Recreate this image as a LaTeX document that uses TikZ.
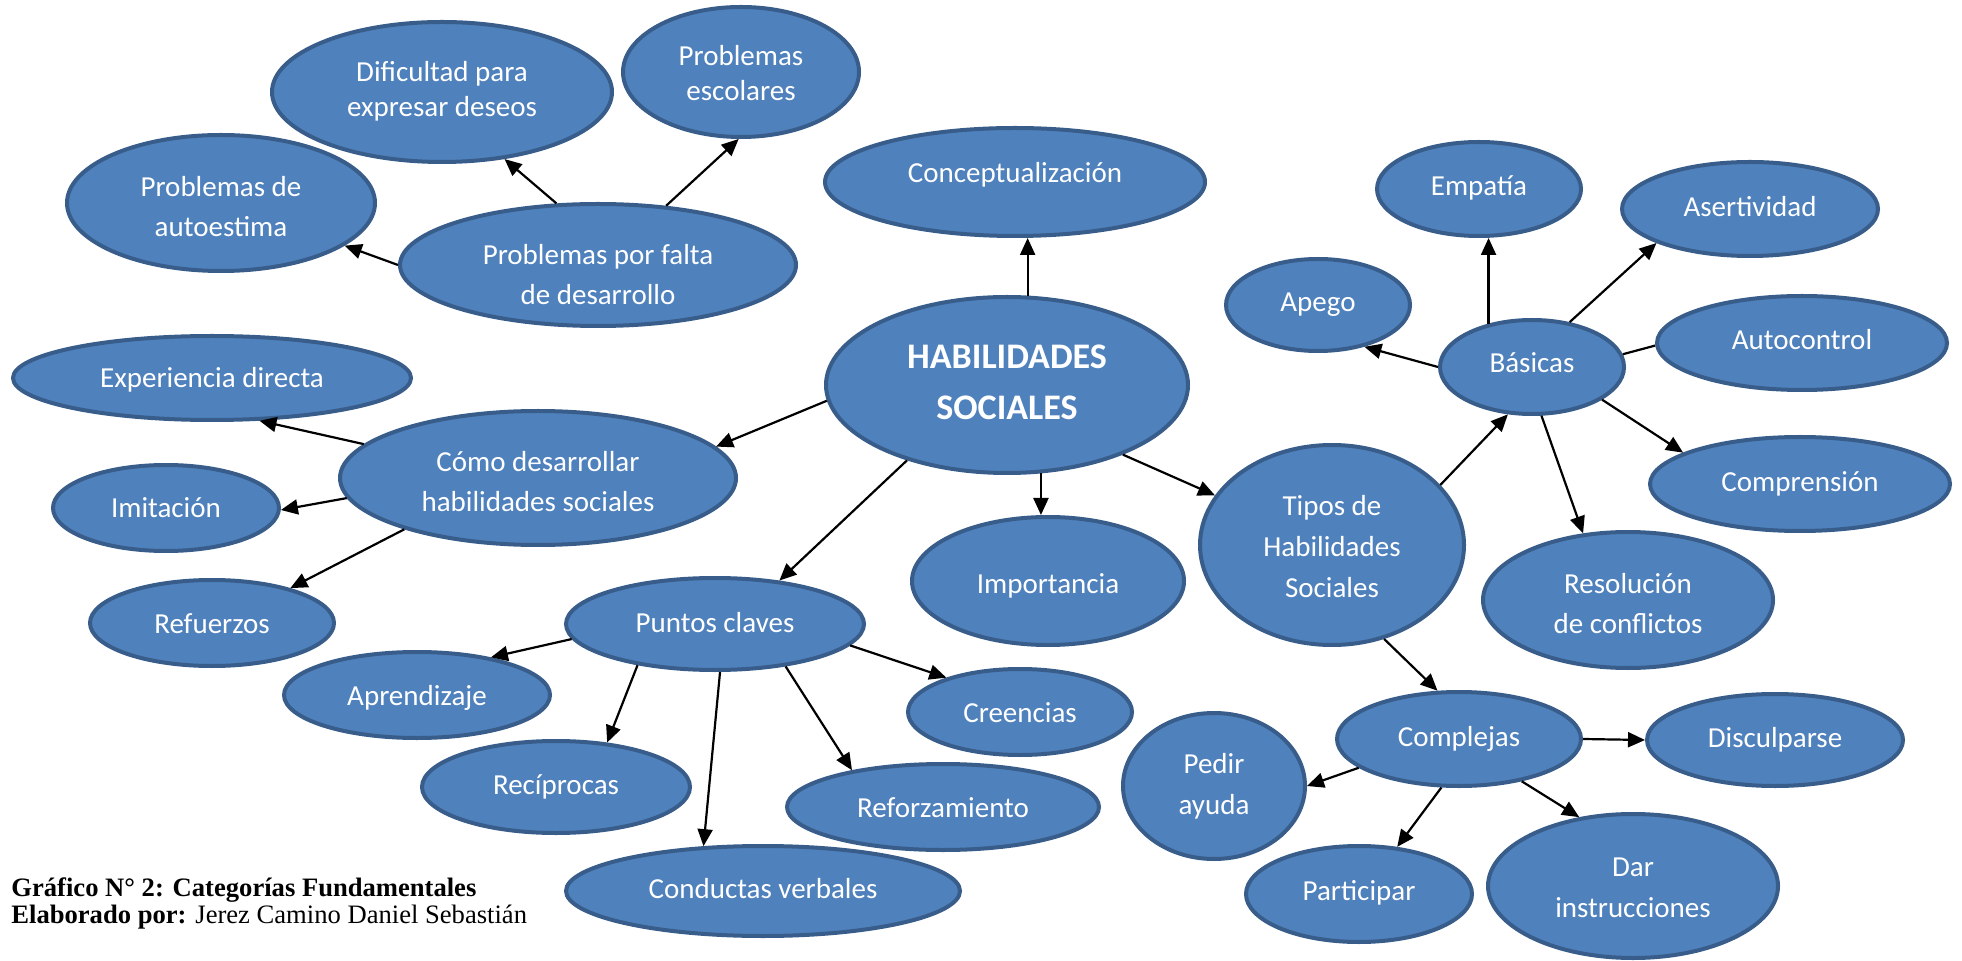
\documentclass[tikz,border=0pt]{standalone}
\usepackage{fontspec}
\setmainfont{Carlito}
\newfontfamily\capfont{Liberation Serif}
\usetikzlibrary{shapes.geometric,arrows.meta}
\definecolor{efill}{HTML}{4F81BD}
\definecolor{eline}{HTML}{385D8A}
\begin{document}
\begin{tikzpicture}[x=0.5pt,y=-0.5pt,
  ell/.style={ellipse, draw=eline, fill=efill, line width=2pt, inner sep=0pt},
  sz/.style 2 args={minimum width={#1*1pt-2pt}, minimum height={#2*1pt-2pt}},
  txt/.style={text=white, font=\fontsize{14.5}{20}\selectfont, align=center, anchor=base, inner sep=0pt},
  tight/.style={font=\fontsize{14.5}{17.6}\selectfont},
  wide/.style={font=\fontsize{14.5}{20.5}\selectfont},
  arr/.style={-{Triangle[length=8.5pt,width=7.5pt]}, line width=1.1pt},
  ln/.style={line width=1.1pt}]
\useasboundingbox (0,0) rectangle (1962,961);

% ellipses
\node[ell, sz={172}{72}] (dif) at (442,92) {};
\node[ell, sz={120}{67}] (esc) at (741,72) {};
\node[ell, sz={156}{70}] (aut) at (221,203) {};
\node[ell, sz={200}{63}] (pf) at (598,265) {};
\node[ell, sz={192}{56}] (con) at (1015,182) {};
\node[ell, sz={183}{90}] (hs) at (1007,385) {};
\node[ell, sz={201}{44}] (exp) at (212,378) {};
\node[ell, sz={200}{69}] (como) at (538,478) {};
\node[ell, sz={115}{45}] (imi) at (166,508) {};
\node[ell, sz={124}{45}] (ref) at (212,623) {};
\node[ell, sz={151}{48}] (pc) at (715,624) {};
\node[ell, sz={138}{66}] (imp) at (1048,581) {};
\node[ell, sz={135}{45}] (apr) at (417,695) {};
\node[ell, sz={114}{45}] (cre) at (1020,712) {};
\node[ell, sz={136}{48}] (rec) at (556,787) {};
\node[ell, sz={158}{45}] (refz) at (943,807) {};
\node[ell, sz={199}{47}] (cv) at (763,891) {};
\node[ell, sz={134}{102}] (tipos) at (1332,545) {};
\node[ell, sz={104}{49}] (emp) at (1479,189) {};
\node[ell, sz={130}{49}] (ase) at (1750,209) {};
\node[ell, sz={94}{48}] (ape) at (1318,305) {};
\node[ell, sz={94}{49}] (bas) at (1532,367) {};
\node[ell, sz={147}{49}] (aut2) at (1802,343) {};
\node[ell, sz={152}{49}] (comp) at (1800,484) {};
\node[ell, sz={147}{70}] (res) at (1628,600) {};
\node[ell, sz={124}{49}] (compl) at (1459,739) {};
\node[ell, sz={130}{48}] (dis) at (1775,740) {};
\node[ell, sz={93}{75}] (ped) at (1214,786) {};
\node[ell, sz={115}{50}] (par) at (1359,894) {};
\node[ell, sz={147}{74}] (dar) at (1633,886) {};

% texts (anchored at the baseline of the last line)
\node[txt, tight] (dif-t) at (442,117) {Dificultad para\\expresar deseos};
\node[txt, tight] (esc-t) at (741,101) {Problemas\\escolares};
\node[txt] (aut-t) at (221,237) {Problemas de\\autoestima};
\node[txt] (pf-t) at (598,305) {Problemas por falta\\de desarrollo};
\node[txt] (con-t) at (1015,183) {Conceptualización};
\node[txt, font=\bfseries\fontsize{18}{25.5}\selectfont] (hs-t) at (1007,420) {HABILIDADES\\SOCIALES};
\node[txt] (exp-t) at (212,388) {Experiencia directa};
\node[txt] (como-t) at (538,512) {Cómo desarrollar\\habilidades sociales};
\node[txt] (imi-t) at (166,518) {Imitación};
\node[txt] (ref-t) at (212,633) {Refuerzos};
\node[txt] (pc-t) at (715,632) {Puntos claves};
\node[txt] (imp-t) at (1048,593) {Importancia};
\node[txt] (apr-t) at (417,705) {Aprendizaje};
\node[txt] (cre-t) at (1020,722) {Creencias};
\node[txt] (rec-t) at (556,794) {Recíprocas};
\node[txt] (refz-t) at (943,817) {Reforzamiento};
\node[txt] (cv-t) at (763,898) {Conductas verbales};
\node[txt, wide] (tipos-t) at (1332,597) {Tipos de\\Habilidades\\Sociales};
\node[txt] (emp-t) at (1479,196) {Empatía};
\node[txt] (ase-t) at (1750,217) {Asertividad};
\node[txt] (ape-t) at (1318,312) {Apego};
\node[txt] (bas-t) at (1532,373) {Básicas};
\node[txt] (aut2-t) at (1802,350) {Autocontrol};
\node[txt] (comp-t) at (1800,492) {Comprensión};
\node[txt] (res-t) at (1628,633) {Resolución\\de conflictos};
\node[txt] (compl-t) at (1459,746) {Complejas};
\node[txt] (dis-t) at (1775,747) {Disculparse};
\node[txt, wide] (ped-t) at (1214,814) {Pedir\\ayuda};
\node[txt] (par-t) at (1359,900) {Participar};
\node[txt, wide] (dar-t) at (1633,917) {Dar\\instrucciones};

% connectors
\draw[arr] (pf.124.1) -- (dif.-47.7);
\draw[arr] (pf.41.9) -- (esc.-92.3);
\draw[arr] (pf.180) -- (aut.-19);
\draw[arr] (hs.77.4) -- (hs.77.4 |- con.south);
\draw[arr] (hs.-175.7) -- (como.10.7);
\draw[arr] (hs.-143.9) -- (pc.34.9);
\draw[arr] (hs.-69) -- (hs.-69 |- imp.north);
\draw[arr] (hs.-31.5) -- (tipos.157.3);
\draw[arr] (como.169.1) -- (exp.-42.8);
\draw[arr] (como.-174.4) -- (imi.-1);
\draw[arr] (como.-159.2) -- (ref.24.4);
\draw[arr] (pc.-174.9) -- (apr.27.4);
\draw[arr] (pc.-152.6) -- (rec.41.8);
\draw[arr] (pc.-84.2) -- (cv.143);
\draw[arr] (pc.-31.4) -- (refz.158.7);
\draw[arr] (pc.-9.4) -- (cre.155.6);
\draw[arr] (tipos.29.6) -- (bas.-117.8);
\draw[arr] (tipos.-61.7) -- (compl.114.4);
\draw[arr] (bas.135.5) -- (bas.135.5 |- emp.south);
\draw[arr] (bas.50.4) -- (ase.-160.9);
\draw[arr] (bas.180) -- (ape.-42.7);
\draw[ln] (bas.8.4) -- (aut2.181.2);
\draw[arr] (bas.-25.9) -- (comp.165.9);
\draw[arr] (bas.-79.7) -- (res.124.1);
\draw[arr] (compl.east) -- (dis.west);
\draw[arr] (compl.-164) -- (ped.east);
\draw[arr] (compl.-110.3) -- (par.51.7);
\draw[arr] (compl.-34.3) -- (dar.128);

% caption
\node[anchor=base west, inner sep=0pt, align=left, font=\capfont\fontsize{13.3}{11}\selectfont] (cap) at (11,923)
  {\textbf{Gráfico N° 2: Categorías Fundamentales}\\\textbf{Elaborado por:} Jerez Camino Daniel Sebastián};
\end{tikzpicture}
\end{document}
